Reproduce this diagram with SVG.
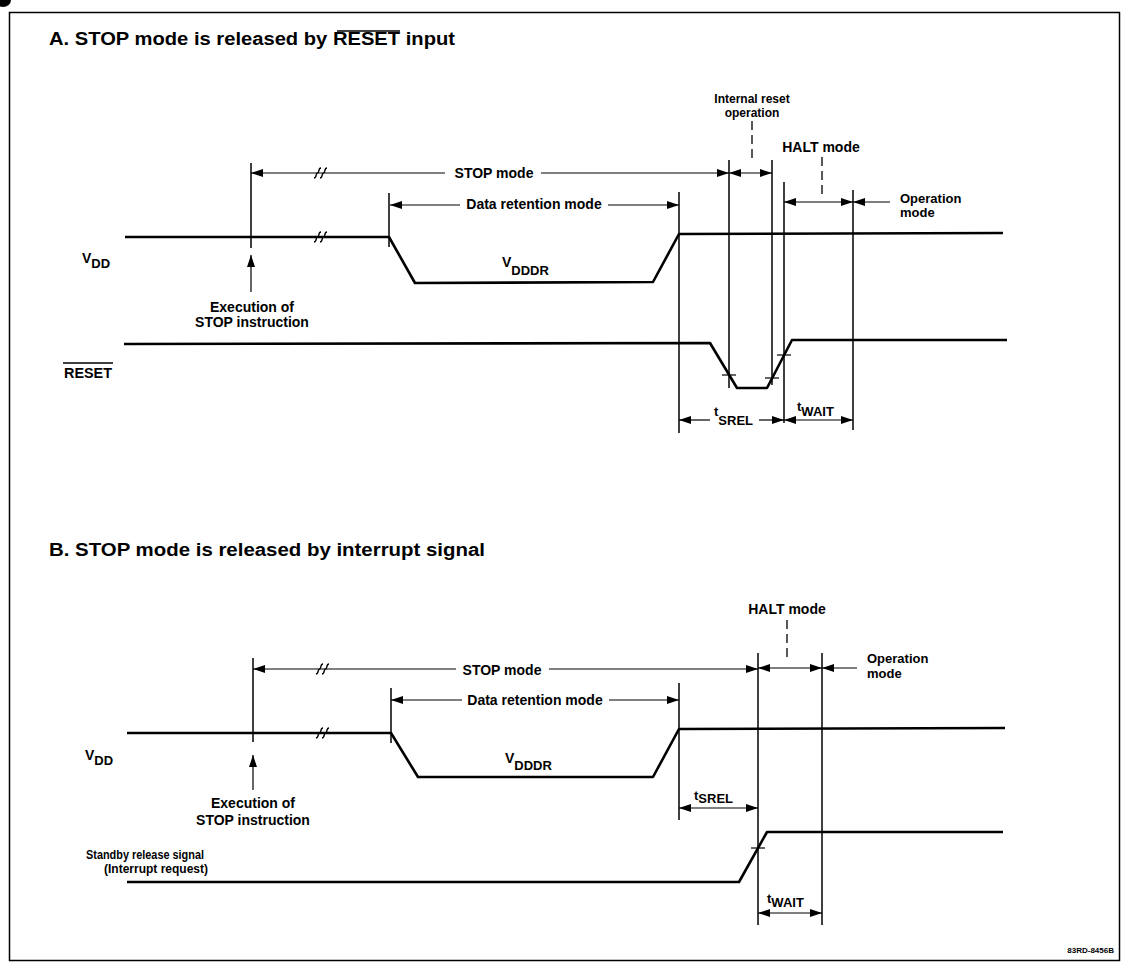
<svg xmlns="http://www.w3.org/2000/svg" width="1128" height="963" viewBox="0 0 1128 963">
<style>
text{font-family:"Liberation Sans",Arial,Helvetica,sans-serif;font-weight:bold;fill:#000}
.ttl{font-size:18px}
.lbl{font-size:14px}
.sm{font-size:12px}
.sub{font-size:13px}
.tiny{font-size:8px}
.sig{fill:none;stroke:#000;stroke-width:2.6;stroke-linejoin:round}
.ext{stroke:#000;stroke-width:1.5;fill:none}
.arr{stroke:#000;stroke-width:1.2;fill:none;marker-end:url(#ah)}
.dbl{stroke:#000;stroke-width:1.2;fill:none;marker-start:url(#ah);marker-end:url(#ah)}
.dash{stroke:#000;stroke-width:1.3;stroke-dasharray:9,5;fill:none}
.brk{stroke:#000;stroke-width:1.4;fill:none}
.tick{stroke:#000;stroke-width:1.2}
</style>
<defs>
<marker id="ah" markerUnits="userSpaceOnUse" markerWidth="12" markerHeight="8" refX="12" refY="4" orient="auto-start-reverse">
<path d="M0,0 L12,4 L0,8 z" fill="#000"/>
</marker>
<path id="brk" d="M-1,5 C2,5 0.5,0 2.5,0 C4.5,0 3,-5 6,-5 M5,5 C8,5 6.5,0 8.5,0 C10.5,0 9,-5 12,-5"/>
</defs>
<rect width="1128" height="963" fill="#fff"/>
<g id="frame">
<rect x="9.5" y="12.5" width="1110" height="948" fill="none" stroke="#000" stroke-width="1.5"/>
<ellipse cx="3" cy="0" rx="8" ry="7" fill="#000"/>
</g>
<g id="title-a">
<text class="ttl" x="49" y="45" textLength="406" lengthAdjust="spacingAndGlyphs">A. STOP mode is released by RESET input</text>
<line x1="337" y1="31" x2="400" y2="31" stroke="#000" stroke-width="1.5"/>
</g>
<g id="title-b">
<text class="ttl" x="49" y="556" textLength="436" lengthAdjust="spacingAndGlyphs">B. STOP mode is released by interrupt signal</text>
</g>
<g id="signals-a">
<polyline class="sig" points="125,237 389,237 415,283 653,282 679,234 1003,233"/>
<polyline class="sig" points="124,344 710,343 737,388 767,388 792,340 1007,340"/>
</g>
<g id="signals-b">
<polyline class="sig" points="127,733 391,733 418,777 653,777 679,729 1005,728"/>
<polyline class="sig" points="127,882 739,882 767,832 1003,832"/>
</g>
<g id="connectors">
<line class="ext" x1="251" y1="163" x2="251" y2="248"/>
<line class="ext" x1="389" y1="193" x2="389" y2="247"/>
<line class="ext" x1="679" y1="192" x2="679" y2="433"/>
<line class="ext" x1="729" y1="160" x2="729" y2="388"/>
<line class="ext" x1="772" y1="160" x2="772" y2="385"/>
<line class="ext" x1="784" y1="182" x2="784" y2="423"/>
<line class="ext" x1="853" y1="190" x2="853" y2="430"/>
<line class="arr" x1="445" y1="173" x2="251" y2="173"/>
<line class="arr" x1="541" y1="173" x2="729" y2="173"/>
<line class="arr" x1="460" y1="205" x2="390" y2="205"/>
<line class="arr" x1="608" y1="205" x2="679" y2="205"/>
<line class="dbl" x1="729" y1="173" x2="772" y2="173"/>
<line class="dbl" x1="784" y1="202" x2="853" y2="202"/>
<line class="arr" x1="890" y1="202" x2="853" y2="202"/>
<line class="arr" x1="710" y1="420" x2="679" y2="420"/>
<line class="arr" x1="759" y1="420" x2="784" y2="420"/>
<line class="dbl" x1="784" y1="420" x2="853" y2="420"/>
<line class="arr" x1="251" y1="292" x2="251" y2="255"/>
<line class="dash" x1="752" y1="121" x2="752" y2="163"/>
<line class="dash" x1="822" y1="157" x2="822" y2="198"/>
<use href="#brk" class="brk" x="315" y="173"/>
<use href="#brk" class="brk" x="315" y="237"/>
<line class="tick" x1="722" y1="375" x2="736" y2="375"/>
<line class="tick" x1="765" y1="378" x2="779" y2="378"/>
<line class="tick" x1="777" y1="355" x2="791" y2="355"/>
<line class="ext" x1="253" y1="658" x2="253" y2="742"/>
<line class="ext" x1="391" y1="688" x2="391" y2="743"/>
<line class="ext" x1="679" y1="683" x2="679" y2="820"/>
<line class="ext" x1="758" y1="653" x2="758" y2="925"/>
<line class="ext" x1="822" y1="653" x2="822" y2="925"/>
<line class="arr" x1="456" y1="669" x2="253" y2="669"/>
<line class="arr" x1="549" y1="669" x2="758" y2="669"/>
<line class="arr" x1="462" y1="700" x2="391" y2="700"/>
<line class="arr" x1="609" y1="700" x2="679" y2="700"/>
<line class="dbl" x1="758" y1="668" x2="822" y2="668"/>
<line class="arr" x1="857" y1="668" x2="822" y2="668"/>
<line class="dbl" x1="679" y1="808" x2="758" y2="808"/>
<line class="dbl" x1="758" y1="913" x2="822" y2="913"/>
<line class="arr" x1="253" y1="790" x2="253" y2="755"/>
<line class="dash" x1="787" y1="620" x2="787" y2="660"/>
<use href="#brk" class="brk" x="317" y="669"/>
<use href="#brk" class="brk" x="317" y="733"/>
<line class="tick" x1="751" y1="848" x2="765" y2="848"/>
</g>
<g id="labels-a">
<text class="lbl" x="82" y="263">V<tspan class="sub" dy="5">DD</tspan></text>
<text class="lbl" x="64" y="378" textLength="48" lengthAdjust="spacingAndGlyphs">RESET</text>
<line x1="63" y1="363" x2="113" y2="363" stroke="#000" stroke-width="1.5"/>
<text class="lbl" x="252" y="312" text-anchor="middle">Execution of</text>
<text class="lbl" x="252" y="327" text-anchor="middle">STOP instruction</text>
<text class="lbl" x="494" y="178" text-anchor="middle">STOP mode</text>
<text class="lbl" x="534" y="209" text-anchor="middle">Data retention mode</text>
<text class="lbl" x="502" y="267">V<tspan class="sub" dy="8">DDDR</tspan></text>
<text class="sm" x="752" y="103" text-anchor="middle">Internal reset</text>
<text class="sm" x="752" y="117" text-anchor="middle">operation</text>
<text class="lbl" x="821" y="152" text-anchor="middle">HALT mode</text>
<text class="sub" x="900" y="203">Operation</text>
<text class="sub" x="900" y="217">mode</text>
<text class="sub" x="714" y="416">t<tspan dy="9">SREL</tspan></text>
<text class="sub" x="797" y="411">t<tspan dy="5">WAIT</tspan></text>
</g>
<g id="labels-b">
<text class="lbl" x="85" y="760">V<tspan class="sub" dy="5">DD</tspan></text>
<text class="lbl" x="253" y="808" text-anchor="middle">Execution of</text>
<text class="lbl" x="253" y="825" text-anchor="middle">STOP instruction</text>
<text class="lbl" x="502" y="675" text-anchor="middle">STOP mode</text>
<text class="lbl" x="535" y="705" text-anchor="middle">Data retention mode</text>
<text class="lbl" x="505" y="763">V<tspan class="sub" dy="7">DDDR</tspan></text>
<text class="lbl" x="787" y="614" text-anchor="middle">HALT mode</text>
<text class="sub" x="867" y="663">Operation</text>
<text class="sub" x="867" y="678">mode</text>
<text class="sub" x="694" y="800">t<tspan dy="3">SREL</tspan></text>
<text class="sub" x="767" y="903">t<tspan dy="4">WAIT</tspan></text>
<text class="sm" x="145" y="859" text-anchor="middle" textLength="118" lengthAdjust="spacingAndGlyphs">Standby release signal</text>
<text class="sm" x="156" y="873" text-anchor="middle">(Interrupt request)</text>
</g>
<g id="code">
<text class="tiny" x="1114" y="953" text-anchor="end">83RD-8456B</text>
</g>
</svg>
